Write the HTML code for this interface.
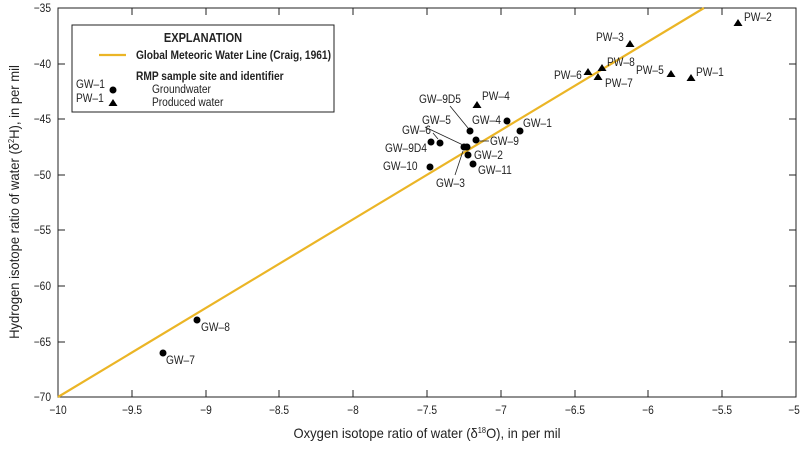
<!DOCTYPE html>
<html><head><meta charset="utf-8"><style>
body{margin:0;background:#fff}
svg{font-family:"Liberation Sans Narrow","Liberation Sans",sans-serif;}
text{transform-box:fill-box;transform-origin:0% 50%;transform:scaleX(.85)}
text.m{transform-origin:50% 50%}
text.e{transform-origin:100% 50%}
text.t{transform:scaleX(.93)}
</style></head><body>
<svg width="800" height="444" viewBox="0 0 800 444" xmlns="http://www.w3.org/2000/svg">
<rect x="58" y="8" width="738" height="389" fill="none" stroke="#222" stroke-width="1"/>
<g stroke="#222" stroke-width="1">
<line x1="132" y1="397" x2="132" y2="390"/><line x1="206" y1="397" x2="206" y2="390"/><line x1="279" y1="397" x2="279" y2="390"/><line x1="353" y1="397" x2="353" y2="390"/><line x1="427" y1="397" x2="427" y2="390"/><line x1="501" y1="397" x2="501" y2="390"/><line x1="575" y1="397" x2="575" y2="390"/><line x1="648" y1="397" x2="648" y2="390"/><line x1="722" y1="397" x2="722" y2="390"/>
<line x1="132" y1="8" x2="132" y2="15"/><line x1="206" y1="8" x2="206" y2="15"/><line x1="279" y1="8" x2="279" y2="15"/><line x1="353" y1="8" x2="353" y2="15"/><line x1="427" y1="8" x2="427" y2="15"/><line x1="501" y1="8" x2="501" y2="15"/><line x1="575" y1="8" x2="575" y2="15"/><line x1="648" y1="8" x2="648" y2="15"/><line x1="722" y1="8" x2="722" y2="15"/>
<line x1="58" y1="64" x2="65" y2="64"/><line x1="58" y1="119" x2="65" y2="119"/><line x1="58" y1="175" x2="65" y2="175"/><line x1="58" y1="230" x2="65" y2="230"/><line x1="58" y1="286" x2="65" y2="286"/><line x1="58" y1="342" x2="65" y2="342"/>
<line x1="796" y1="64" x2="789" y2="64"/><line x1="796" y1="119" x2="789" y2="119"/><line x1="796" y1="175" x2="789" y2="175"/><line x1="796" y1="230" x2="789" y2="230"/><line x1="796" y1="286" x2="789" y2="286"/><line x1="796" y1="342" x2="789" y2="342"/>
</g>
<g font-size="12" fill="#222" text-anchor="middle">
<text class="m" x="58" y="414">−10</text><text class="m" x="132" y="414">−9.5</text><text class="m" x="206" y="414">−9</text><text class="m" x="279" y="414">−8.5</text><text class="m" x="353" y="414">−8</text><text class="m" x="427" y="414">−7.5</text><text class="m" x="501" y="414">−7</text><text class="m" x="575" y="414">−6.5</text><text class="m" x="648" y="414">−6</text><text class="m" x="722" y="414">−5.5</text><text class="m" x="794" y="414">−5</text>
</g>
<g font-size="12" fill="#222" text-anchor="end">
<text class="e" x="51" y="12">−35</text><text class="e" x="51" y="68">−40</text><text class="e" x="51" y="123">−45</text><text class="e" x="51" y="179">−50</text><text class="e" x="51" y="234">−55</text><text class="e" x="51" y="290">−60</text><text class="e" x="51" y="346">−65</text><text class="e" x="51" y="401">−70</text>
</g>
<text class="m t" x="427" y="438" font-size="14" text-anchor="middle" fill="#222">Oxygen isotope ratio of water (δ<tspan font-size="8" dy="-5">18</tspan><tspan dy="5">O), in per mil</tspan></text>
<g transform="translate(19,202) rotate(-90)"><text class="m t" x="0" y="0" font-size="14" text-anchor="middle" fill="#222">Hydrogen isotope ratio of water (δ<tspan font-size="8" dy="-5">2</tspan><tspan dy="5">H), in per mil</tspan></text></g>
<line x1="58" y1="397" x2="704" y2="8" stroke="#EBB526" stroke-width="2.2"/>
<rect x="72" y="25" width="262" height="87" fill="#fff" stroke="#222" stroke-width="1"/>
<text class="m" x="203" y="42" font-size="13" font-weight="bold" text-anchor="middle" fill="#222">EXPLANATION</text>
<line x1="99" y1="55" x2="126" y2="55" stroke="#EBB526" stroke-width="2.2"/>
<text x="136" y="59" font-size="12" font-weight="bold" fill="#222">Global Meteoric Water Line (Craig, 1961)</text>
<text x="136" y="80" font-size="12" font-weight="bold" fill="#222">RMP sample site and identifier</text>
<text x="152" y="93" font-size="12" fill="#222">Groundwater</text>
<text x="152" y="106" font-size="12" fill="#222">Produced water</text>
<text x="76" y="88" font-size="12" fill="#222">GW–1</text>
<text x="76" y="102" font-size="12" fill="#222">PW–1</text>
<circle cx="113" cy="90" r="3.5" fill="#000"/>
<polygon points="113,99 117.5,106 108.5,106" fill="#000"/>
<g fill="#000">
<circle cx="520" cy="131" r="3.5"/><circle cx="468" cy="155" r="3.5"/><circle cx="464" cy="147" r="3.5"/><circle cx="507" cy="121" r="3.5"/><circle cx="467" cy="147" r="3.5"/><circle cx="440" cy="143" r="3.5"/><circle cx="431" cy="142" r="3.5"/><circle cx="470" cy="131" r="3.5"/><circle cx="476" cy="140" r="3.5"/><circle cx="473" cy="164" r="3.5"/><circle cx="430" cy="167" r="3.5"/><circle cx="197" cy="320" r="3.5"/><circle cx="163" cy="353" r="3.5"/>
<polygon points="477,101 481.5,108 472.5,108"/><polygon points="630,40 634.5,47 625.5,47"/><polygon points="738,19 742.5,26 733.5,26"/><polygon points="671,70 675.5,77 666.5,77"/><polygon points="691,74 695.5,81 686.5,81"/><polygon points="602,64 606.5,71 597.5,71"/><polygon points="588,68 592.5,75 583.5,75"/><polygon points="598,73 602.5,80 593.5,80"/>
</g>
<g stroke="#222" stroke-width="0.8">
<line x1="450" y1="106" x2="468" y2="128"/><line x1="425" y1="127" x2="463" y2="145"/><line x1="433" y1="133" x2="438" y2="139"/><line x1="479" y1="141" x2="489" y2="141"/><line x1="455" y1="175" x2="463" y2="151"/>
</g>
<g font-size="12" fill="#222">
<text x="419" y="103">GW–9D5</text><text x="482" y="100">PW–4</text><text x="472" y="124">GW–4</text><text x="523" y="127">GW–1</text>
<text x="422" y="124">GW–5</text><text x="402" y="134">GW–6</text><text x="385" y="152">GW–9D4</text><text x="490" y="145">GW–9</text>
<text x="474" y="159">GW–2</text><text x="478" y="174">GW–11</text><text x="383" y="170">GW–10</text><text x="436" y="187">GW–3</text>
<text x="201" y="331">GW–8</text><text x="166" y="364">GW–7</text>
<text x="596" y="41">PW–3</text><text x="744" y="21">PW–2</text><text x="636" y="74">PW–5</text><text x="696" y="76">PW–1</text><text x="607" y="66">PW–8</text><text x="554" y="79">PW–6</text><text x="605" y="87">PW–7</text>
</g>
</svg>
</body></html>
